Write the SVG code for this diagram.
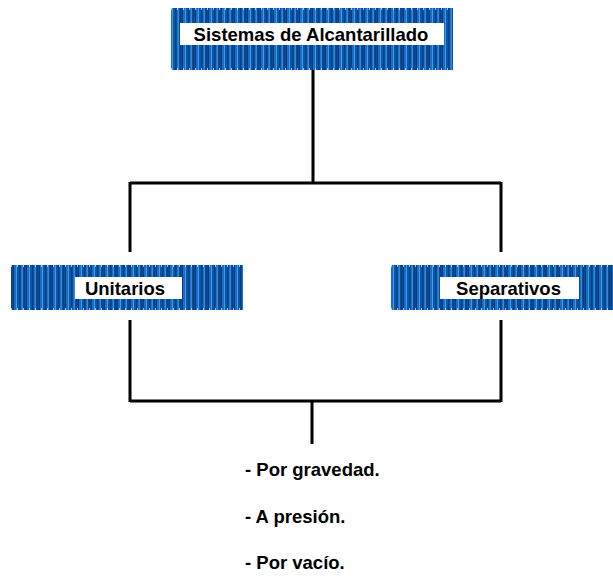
<svg xmlns="http://www.w3.org/2000/svg" width="613" height="576" viewBox="0 0 613 576">
<style>
.lbl{font-family:"Liberation Sans",Arial,sans-serif;font-weight:bold;font-size:18.5px;fill:#000}
.conn{stroke:#000;stroke-width:3;fill:none}
.box{fill:url(#stripes)}
.inner{fill:#fff}
.tick{stroke:#d8ecff;stroke-width:1.5;stroke-dasharray:1 5}
</style>
<defs>
<pattern id="stripes" patternUnits="userSpaceOnUse" width="13" height="10" x="0" y="0">
<rect width="13" height="10" fill="#0b4c92"/>
<rect x="0" width="1" height="10" fill="#0c3a78"/>
<rect x="1" width="2" height="10" fill="#1a6cc4"/>
<rect x="3" width="1" height="10" fill="#35a0f5"/>
<rect x="4" width="2" height="10" fill="#0a57a8"/>
<rect x="6" width="1" height="10" fill="#0d3d7a"/>
<rect x="8" width="1" height="10" fill="#1b74d0"/>
<rect x="9" width="1" height="10" fill="#2a8ce8"/>
<rect x="11" width="1" height="10" fill="#0e3f80"/>
</pattern>
</defs>
<g id="connectors">
<path class="conn" d="M313,70 V183 M130,183 H501 M130,182 V252 M501,182 V252"/>
<path class="conn" d="M130,320 V402 M501,320 V402 M130,401 H501 M312,401 V444"/>
</g>
<g id="node-sistemas">
<rect class="box" x="171" y="8" width="282" height="62"/>
<line class="tick" x1="171" y1="9" x2="453" y2="9"/>
<line class="tick" x1="171" y1="69" x2="453" y2="69"/>
<rect class="inner" x="180" y="23" width="264" height="22"/>
<text class="lbl" x="311" y="41" text-anchor="middle">Sistemas de Alcantarillado</text>
</g>
<g id="node-unitarios">
<rect class="box" x="11" y="265" width="232" height="45"/>
<line class="tick" x1="11" y1="266" x2="243" y2="266"/>
<line class="tick" x1="11" y1="309" x2="243" y2="309"/>
<rect class="inner" x="75" y="277" width="107" height="22"/>
<text class="lbl" x="125" y="295" text-anchor="middle">Unitarios</text>
</g>
<g id="node-separativos">
<rect class="box" x="391" y="265" width="222" height="45"/>
<line class="tick" x1="391" y1="266" x2="613" y2="266"/>
<line class="tick" x1="391" y1="309" x2="613" y2="309"/>
<rect class="inner" x="440" y="277" width="139" height="22"/>
<text class="lbl" x="508.5" y="295" text-anchor="middle">Separativos</text>
</g>
<g id="node-list">
<text class="lbl" x="245" y="476">- Por gravedad.</text>
<text class="lbl" x="245" y="523">- A presión.</text>
<text class="lbl" x="245" y="569">- Por vacío.</text>
</g>
</svg>
